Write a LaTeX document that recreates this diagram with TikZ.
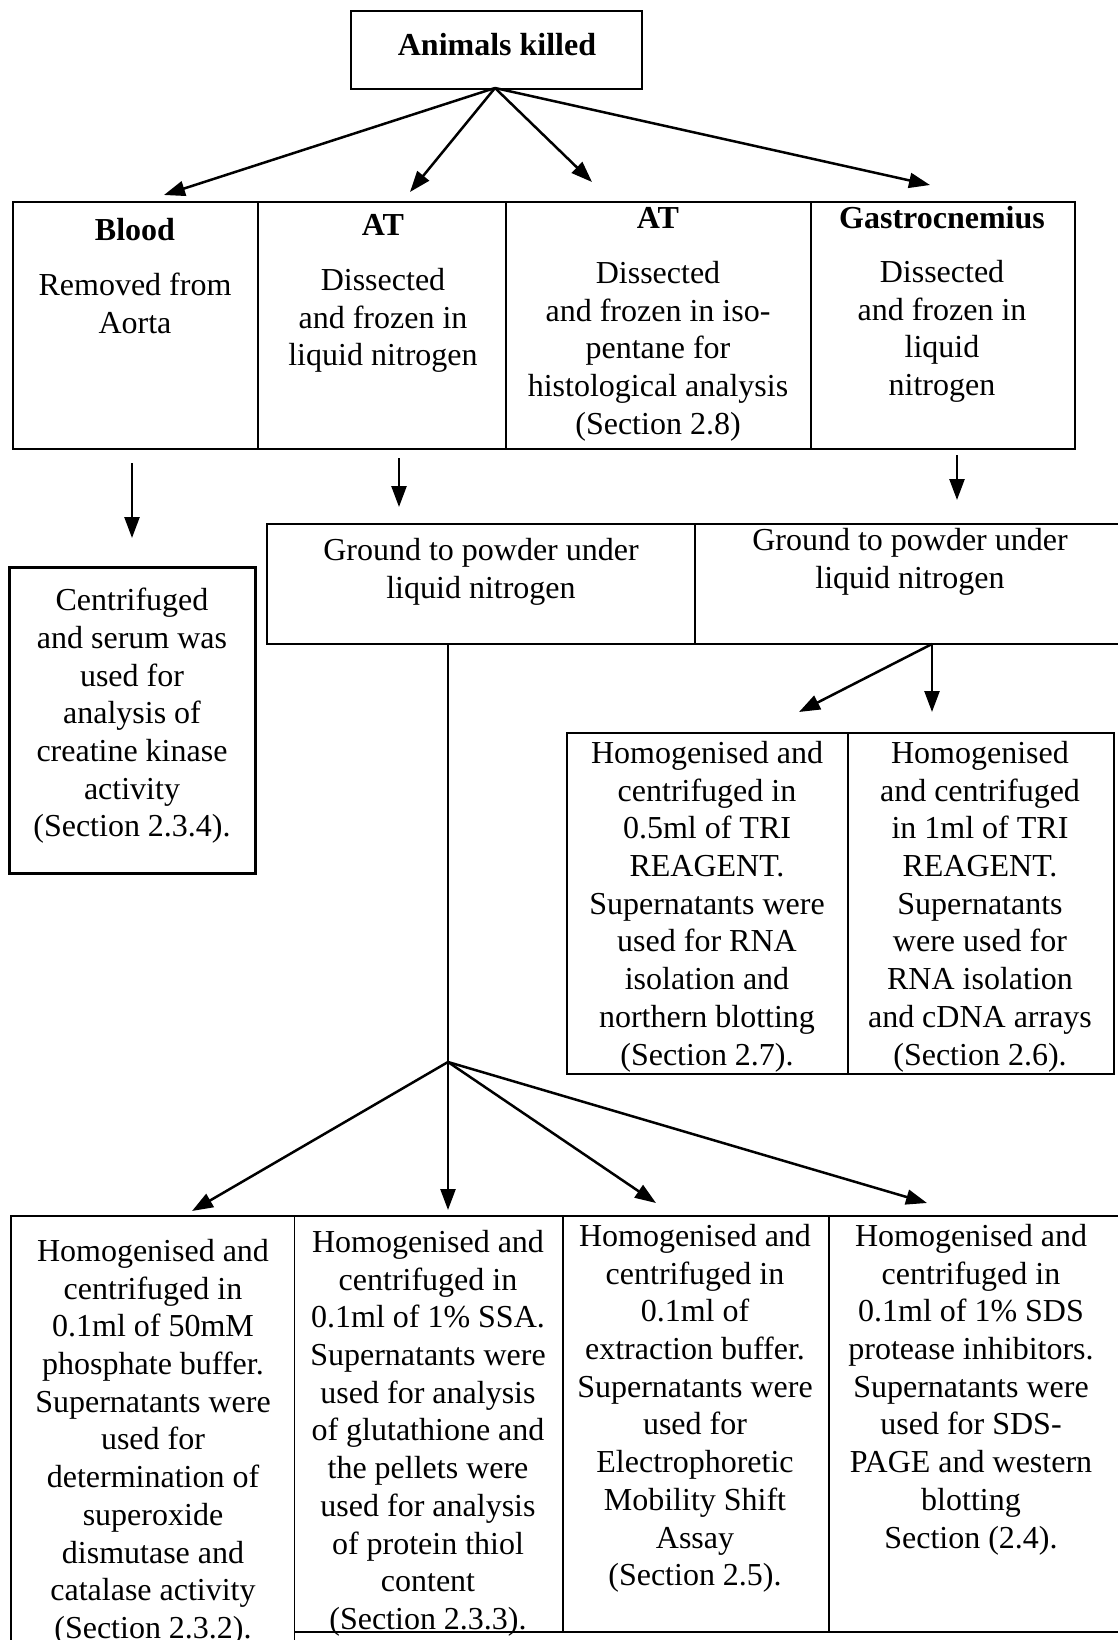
\documentclass[tikz,border=0pt]{standalone}
\usepackage{fontspec}
\setmainfont{Liberation Serif}
\usetikzlibrary{arrows.meta}
\begin{document}
\begin{tikzpicture}[x=1pt,y=-1pt,
  box/.style={draw,line width=1.5pt,inner sep=0pt,outer sep=0pt,anchor=north west},
  txt/.style={font=\fontsize{32}{37.7}\selectfont,align=center,inner sep=0pt,anchor=north},
  ttl/.style={font=\fontsize{32}{37.7}\selectfont\bfseries,inner sep=0pt},
  arr/.style={line width=2.5pt,-{Triangle[length=21pt,width=15pt]}},
  ln/.style={line width=1.8pt}]
\useasboundingbox (0,0) rectangle (1118,1640);
\fill[white] (0,0) rectangle (1118,1640);
\clip (0,0) rectangle (1118,1640);

% boxes
\node[box,line width=2pt,minimum width=291pt,minimum height=78pt] (animals) at (351,11) {};
\node[box,minimum width=245pt,minimum height=247pt] (blood) at (13,202) {};
\node[box,minimum width=248pt,minimum height=247pt] (at1) at (258,202) {};
\node[box,minimum width=305pt,minimum height=247pt] (at2) at (506,202) {};
\node[box,minimum width=264pt,minimum height=247pt] (gastro) at (811,202) {};
\node[box,line width=3pt,minimum width=246pt,minimum height=306pt] (cent) at (9,567) {};
\node[box,minimum width=428pt,minimum height=120pt] (groundL) at (267,524) {};
\node[box,minimum width=440pt,minimum height=120pt] (groundR) at (695,524) {};
\node[box,minimum width=281pt,minimum height=341pt] (triL) at (567,733) {};
\node[box,minimum width=266pt,minimum height=341pt] (triR) at (848,733) {};
\node[box,minimum width=283.5pt,minimum height=450pt] (b1) at (11,1216) {};
\node[box,minimum width=268.5pt,minimum height=416pt] (b2) at (294.5,1216) {};
\node[box,minimum width=266pt,minimum height=416pt] (b3) at (563,1216) {};
\node[box,minimum width=300pt,minimum height=416pt] (b4) at (829,1216) {};

% texts
\node[ttl] (tanimals) at (497,45) {Animals killed};
\node[ttl] (tblood) at (135,230) {Blood};
\node[txt] (xblood) at (135,273) {Removed from\\Aorta};
\node[ttl] (tat1) at (383,225) {AT};
\node[txt] (xat1) at (383,268) {Dissected\\and frozen in\\liquid nitrogen};
\node[ttl] (tat2) at (658,218) {AT};
\node[txt] (xat2) at (658,261) {Dissected\\and frozen in iso-\\pentane for\\histological analysis\\(Section 2.8)};
\node[ttl] (tgastro) at (942,218) {Gastrocnemius};
\node[txt] (xgastro) at (942,260) {Dissected\\and frozen in\\liquid\\nitrogen};
\node[txt] (xcent) at (132,588) {Centrifuged\\and serum was\\used for\\analysis of\\creatine kinase\\activity\\(Section 2.3.4).};
\node[txt] (xgroundL) at (481,538) {Ground to powder under\\liquid nitrogen};
\node[txt] (xgroundR) at (910,528) {Ground to powder under\\liquid nitrogen};
\node[txt] (xtriL) at (707,741) {Homogenised and\\centrifuged in\\0.5ml of TRI\\REAGENT.\\Supernatants were\\used for RNA\\isolation and\\northern blotting\\(Section 2.7).};
\node[txt] (xtriR) at (980,741) {Homogenised\\and centrifuged\\in 1ml of TRI\\REAGENT.\\Supernatants\\were used for\\RNA isolation\\and cDNA arrays\\(Section 2.6).};
\node[txt] (xb1) at (153,1239) {Homogenised and\\centrifuged in\\0.1ml of 50mM\\phosphate buffer.\\Supernatants were\\used for\\determination of\\superoxide\\dismutase and\\catalase activity\\(Section 2.3.2).};
\node[txt] (xb2) at (428,1230) {Homogenised and\\centrifuged in\\0.1ml of 1\% SSA.\\Supernatants were\\used for analysis\\of glutathione and\\the pellets were\\used for analysis\\of protein thiol\\content\\(Section 2.3.3).};
\node[txt] (xb3) at (695,1224) {Homogenised and\\centrifuged in\\0.1ml of\\extraction buffer.\\Supernatants were\\used for\\Electrophoretic\\Mobility Shift\\Assay\\(Section 2.5).};
\node[txt] (xb4) at (971,1224) {Homogenised and\\centrifuged in\\0.1ml of 1\% SDS\\protease inhibitors.\\Supernatants were\\used for SDS-\\PAGE and western\\blotting\\Section (2.4).};

% connector points
\coordinate (o1) at (495,88);
\coordinate (e1) at (164,195);
\coordinate (e2) at (410,192);
\coordinate (e3) at (592,182);
\coordinate (e4) at (930,185);
\coordinate (s5) at (132,463);
\coordinate (e5) at (132,538);
\coordinate (s6) at (399,458);
\coordinate (e6) at (399,507);
\coordinate (s7) at (957,455);
\coordinate (e7) at (957,500);
\coordinate (o2) at (932,644);
\coordinate (e8) at (799,712);
\coordinate (e9) at (932,712);
\coordinate (s10) at (448,644);
\coordinate (o3) at (448,1062);
\coordinate (e11) at (192,1211);
\coordinate (e12) at (448,1210);
\coordinate (e13) at (656,1203);
\coordinate (e14) at (927,1203);

% connectors
\draw[arr] (o1) -- (e1);
\draw[arr] (o1) -- (e2);
\draw[arr] (o1) -- (e3);
\draw[arr] (o1) -- (e4);
\draw[arr] (s5) -- (e5);
\draw[arr] (s6) -- (e6);
\draw[arr] (s7) -- (e7);
\draw[arr] (o2) -- (e8);
\draw[arr] (o2) -- (e9);
\draw[ln] (s10) -- (o3);
\draw[arr] (o3) -- (e11);
\draw[arr] (o3) -- (e12);
\draw[arr] (o3) -- (e13);
\draw[arr] (o3) -- (e14);
\end{tikzpicture}
\end{document}
